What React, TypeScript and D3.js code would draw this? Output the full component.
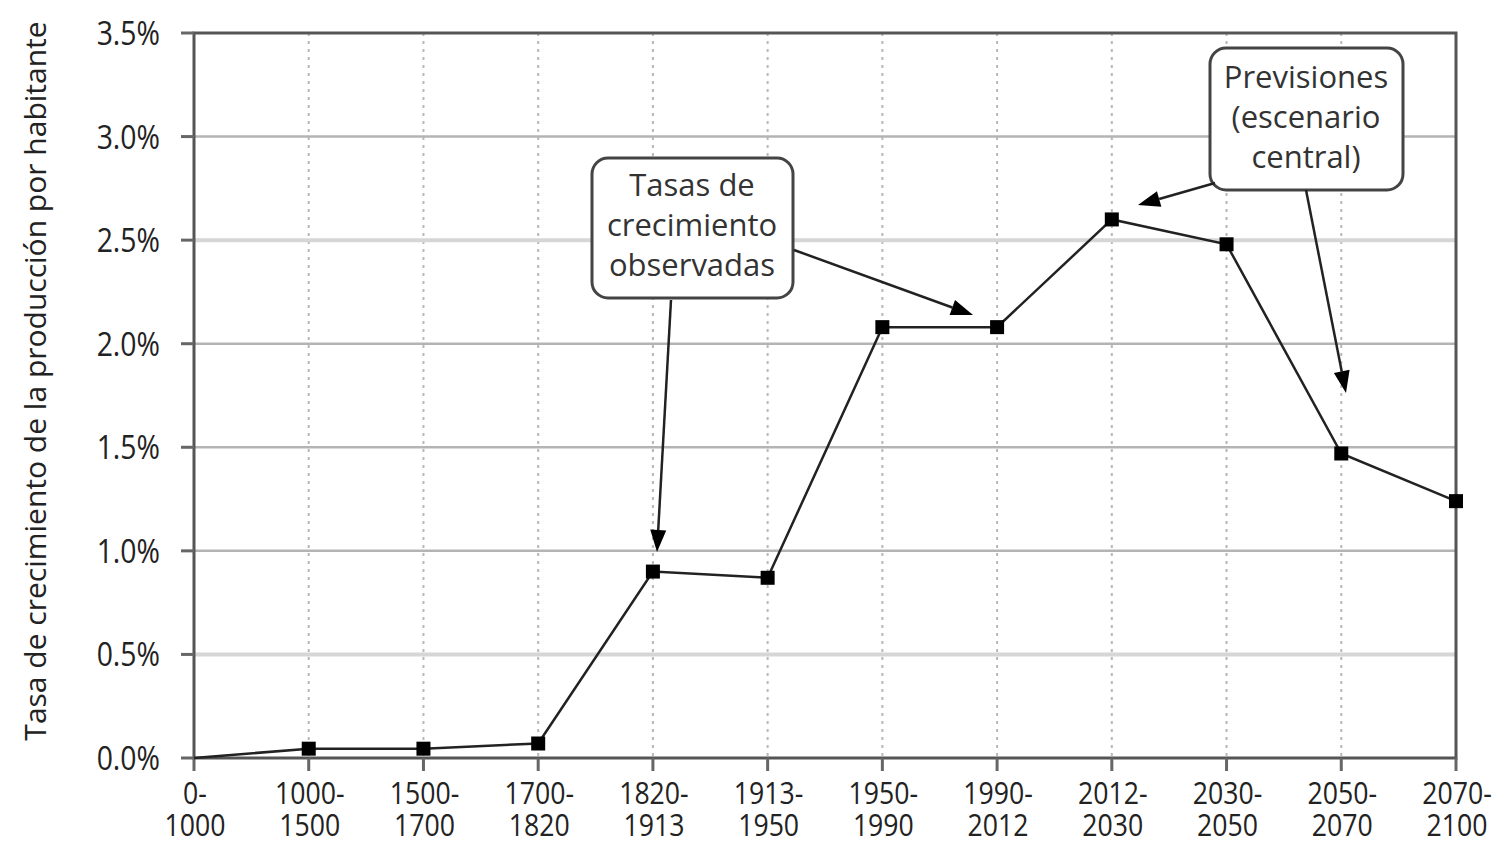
import React from "react";
import * as d3 from "d3";

const categories = ["0-1000","1000-1500","1500-1700","1700-1820","1820-1913","1913-1950","1950-1990","1990-2012","2012-2030","2030-2050","2050-2070","2070-2100"];
const growth = [0.0, 0.045, 0.045, 0.07, 0.9, 0.87, 2.08, 2.08, 2.6, 2.48, 1.47, 1.24];
const yTicks = [0, 0.5, 1.0, 1.5, 2.0, 2.5, 3.0, 3.5];
const box1Lines = ["Tasas de", "crecimiento", "observadas"];
const box2Lines = ["Previsiones", "(escenario", "central)"];

const W = 1501, H = 844;
const L = 194, R = 1456, T = 33, B = 758;
const FONT = "'Open Sans', 'Noto Sans', sans-serif";
const SX = 0.86;

export default function App() {
  const x = d3.scalePoint<string>().domain(categories).range([L, R]);
  const y = d3.scaleLinear().domain([0, 3.5]).range([B, T]);
  const line = d3.line<number>().x((_, i) => x(categories[i])!).y(d => y(d));
  const sq = 14;

  const arrow = (x1: number, y1: number, x2: number, y2: number, key: string) => {
    const ang = Math.atan2(y2 - y1, x2 - x1);
    const len = 22, w = 8;
    const bx = x2 - len * Math.cos(ang), by = y2 - len * Math.sin(ang);
    const px = -Math.sin(ang) * w, py = Math.cos(ang) * w;
    return (
      <g key={key}>
        <line x1={x1} y1={y1} x2={bx} y2={by} stroke="#222" strokeWidth={2.5} />
        <path d={`M${x2},${y2}L${bx + px},${by + py}L${bx - px},${by - py}Z`} fill="#000" />
      </g>
    );
  };

  const condensed = (tx: number, ty: number, s: string, anchor: string, size: number, key?: string) => (
    <text key={key} transform={`translate(${tx},${ty}) scale(${SX},1)`} textAnchor={anchor} fontSize={size} fill="#222">{s}</text>
  );

  return (
    <svg width={W} height={H} style={{ position: "absolute", left: 0, top: 0, background: "#fff" }} fontFamily={FONT}>
      <rect x={0} y={0} width={W} height={H} fill="#fff" />
      {/* vertical dotted grid */}
      {categories.slice(1, -1).map(c => (
        <line key={c} x1={x(c)} x2={x(c)} y1={T} y2={B} stroke="#b8b8b8" strokeWidth={2} strokeDasharray="3,5" />
      ))}
      {/* horizontal grid */}
      {yTicks.slice(1, -1).map(t => (
        <line key={t} x1={L} x2={R} y1={y(t)} y2={y(t)}
          stroke={t === 0.5 || t === 2.5 ? "#d6d6d6" : "#b4b4b4"} strokeWidth={t === 0.5 || t === 2.5 ? 4 : 2.5} />
      ))}
      {/* frame */}
      <rect x={L} y={T} width={R - L} height={B - T} fill="none" stroke="#555" strokeWidth={3} />
      {/* y ticks */}
      {yTicks.map(t => (
        <g key={t}>
          <line x1={L - 13} x2={L} y1={y(t)} y2={y(t)} stroke="#666" strokeWidth={3} />
          {condensed(160, y(t) + 12, `${t.toFixed(1)}%`, "end", 33)}
        </g>
      ))}
      {/* x ticks */}
      {categories.map(c => {
        const [a, b] = c.split("-");
        return (
          <g key={c}>
            <line x1={x(c)} x2={x(c)} y1={B} y2={B + 13} stroke="#666" strokeWidth={3} />
            {condensed(x(c)! + 1, 804, `${a}-`, "middle", 31)}
            {condensed(x(c)! + 1, 836, b, "middle", 31)}
          </g>
        );
      })}
      {/* y title */}
      <text transform={`translate(46,381) rotate(-90)`} textAnchor="middle" fontSize={30} fill="#222">
        Tasa de crecimiento de la producción por habitante
      </text>
      {/* series */}
      <path d={line(growth) ?? ""} fill="none" stroke="#222" strokeWidth={2.5} />
      {growth.map((v, i) => i === 0 ? null : (
        <rect key={i} x={x(categories[i])! - sq / 2} y={y(v) - sq / 2} width={sq} height={sq} fill="#000" />
      ))}
      {/* annotation 1 */}
      <rect x={592} y={158} width={201} height={140} rx={16} fill="#fff" stroke="#444" strokeWidth={3} />
      {box1Lines.map((s, i) => (
        <text key={s} x={692} y={196 + i * 40} textAnchor="middle" fontSize={31} fill="#333">{s}</text>
      ))}
      {arrow(671, 300, 657, 552, "a1")}
      {arrow(794, 250, 973, 315, "a2")}
      {/* annotation 2 */}
      <rect x={1210} y={48} width={193} height={142} rx={16} fill="#fff" stroke="#444" strokeWidth={3} />
      {box2Lines.map((s, i) => (
        <text key={s} x={1306} y={88 + i * 40} textAnchor="middle" fontSize={31} fill="#333">{s}</text>
      ))}
      {arrow(1215, 183, 1138, 205, "a3")}
      {arrow(1306, 190, 1346, 393, "a4")}
    </svg>
  );
}
